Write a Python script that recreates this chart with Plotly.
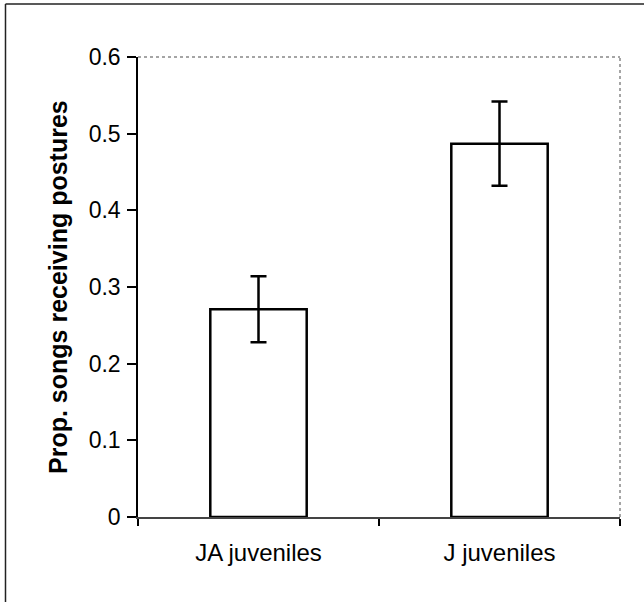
import plotly.graph_objects as go

categories = ["JA juveniles", "J juveniles"]
values = [0.271, 0.487]
errors = [0.043, 0.055]
ytick_vals = [0, 0.1, 0.2, 0.3, 0.4, 0.5, 0.6]
ytick_text = ["0", "0.1", "0.2", "0.3", "0.4", "0.5", "0.6"]
y_title = "Prop. songs receiving postures"

FONT = "Arial, Liberation Sans, sans-serif"

fig = go.Figure()
fig.add_trace(go.Bar(
    x=categories, y=values,
    width=0.40,
    marker=dict(color="white", line=dict(color="black", width=2.5)),
    error_y=dict(type="data", array=errors, visible=True,
                 color="black", thickness=2.5, width=8),
))

fig.update_layout(
    width=644, height=602,
    margin=dict(l=138, r=24, t=57, b=85),
    paper_bgcolor="white", plot_bgcolor="white",
    showlegend=False,
    font=dict(family=FONT, size=23, color="black"),
    xaxis=dict(
        type="category", range=[-0.5, 1.5],
        tickson="boundaries", ticks="outside", ticklen=7, tickwidth=1.5,
        tickcolor="black",
        showline=True, linecolor="#444", linewidth=1.5,
        showgrid=False, zeroline=False,
        tickfont=dict(family=FONT, size=24, color="black"),
        ticklabelstandoff=13,
    ),
    yaxis=dict(
        range=[0, 0.6], tickvals=ytick_vals, ticktext=ytick_text,
        ticks="outside", ticklen=9, tickwidth=1.5, tickcolor="black",
        showline=True, linecolor="black", linewidth=1.5,
        showgrid=False, zeroline=False,
        tickfont=dict(family=FONT, size=23, color="black"),
        ticklabelstandoff=2,
    ),
)

fig.add_annotation(
    text="<b>" + y_title + "</b>", xref="paper", yref="paper",
    x=-0.166, y=0.5, xanchor="center", yanchor="middle",
    textangle=-90, showarrow=False,
    font=dict(family=FONT, size=25, color="black"),
)

# plot area top/right dotted grey border
fig.add_shape(type="line", xref="paper", yref="paper", x0=0, x1=1, y0=1, y1=1,
              line=dict(color="#888", width=1.5, dash="dot"))
fig.add_shape(type="line", xref="paper", yref="paper", x0=1, x1=1, y0=0, y1=1,
              line=dict(color="#888", width=1.5, dash="dot"))
# outer frame (left and top)
fig.add_shape(type="line", xref="paper", yref="paper", x0=-0.2749, x1=-0.2749, y0=-0.2, y1=1.115,
              line=dict(color="#222", width=1.5))
fig.add_shape(type="line", xref="paper", yref="paper", x0=-0.2749, x1=1.06, y0=1.115, y1=1.115,
              line=dict(color="#222", width=1.5))

fig.write_html("out.html", config={"displayModeBar": False},
               post_script="document.body.style.margin='0';document.body.style.overflow='hidden';")
